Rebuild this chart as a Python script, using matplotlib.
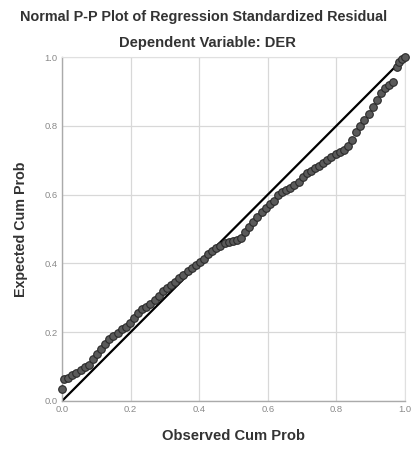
import numpy as np
import matplotlib
matplotlib.use("Agg")
import matplotlib.pyplot as plt

plt.rcParams['font.family'] = ['Liberation Sans', 'DejaVu Sans']

# observed / expected cumulative probabilities
observed = [0.000, 0.006, 0.018, 0.030, 0.042, 0.054, 0.066, 0.078, 0.090, 0.102,
            0.114, 0.126, 0.138, 0.150, 0.162, 0.174, 0.186, 0.198, 0.210, 0.222,
            0.234, 0.246, 0.258, 0.270, 0.282, 0.294, 0.306, 0.318, 0.330, 0.342,
            0.354, 0.366, 0.378, 0.390, 0.402, 0.414, 0.426, 0.438, 0.450, 0.462,
            0.474, 0.486, 0.498, 0.510, 0.522, 0.534, 0.546, 0.558, 0.570, 0.582,
            0.594, 0.606, 0.618, 0.630, 0.642, 0.654, 0.666, 0.678, 0.690, 0.702,
            0.714, 0.726, 0.738, 0.750, 0.762, 0.774, 0.786, 0.798, 0.810, 0.822,
            0.834, 0.846, 0.858, 0.870, 0.882, 0.894, 0.906, 0.918, 0.930, 0.942,
            0.954, 0.966, 0.976, 0.984, 0.992, 1.000]
expected = [0.035, 0.063, 0.068, 0.075, 0.082, 0.090, 0.098, 0.106, 0.122, 0.138,
            0.152, 0.166, 0.179, 0.189, 0.199, 0.208, 0.216, 0.226, 0.240, 0.256,
            0.266, 0.274, 0.283, 0.293, 0.306, 0.319, 0.329, 0.337, 0.346, 0.357,
            0.367, 0.378, 0.386, 0.395, 0.405, 0.414, 0.426, 0.436, 0.444, 0.452,
            0.459, 0.462, 0.465, 0.468, 0.474, 0.490, 0.506, 0.520, 0.536, 0.551,
            0.562, 0.572, 0.583, 0.600, 0.607, 0.613, 0.620, 0.628, 0.638, 0.651,
            0.662, 0.670, 0.678, 0.684, 0.691, 0.700, 0.711, 0.719, 0.725, 0.731,
            0.743, 0.758, 0.783, 0.799, 0.817, 0.835, 0.855, 0.876, 0.895, 0.910,
            0.918, 0.928, 0.972, 0.985, 0.994, 1.000]

ticks = [0.0, 0.2, 0.4, 0.6, 0.8, 1.0]
tick_labels = ['0.0', '0.2', '0.4', '0.6', '0.8', '1.0']

fig = plt.figure(figsize=(4.11, 4.5), dpi=100)
ax = fig.add_axes([0.151, 0.109, 0.834, 0.764])

# 参考线
ax.plot([0, 1], [0, 1], color='black', linewidth=1.6, zorder=2)

# 残差点
ax.scatter(observed, expected, s=30, facecolor='#5a5a5a', edgecolor='#2a2a2a',
           linewidth=0.8, zorder=3, clip_on=False)

ax.set_xlim(0, 1)
ax.set_ylim(0, 1)
ax.set_xticks(ticks)
ax.set_yticks(ticks)
ax.set_xticklabels(tick_labels)
ax.set_yticklabels(tick_labels)
ax.tick_params(length=0, labelsize=6.8, colors='#8a8a8a', pad=3)
ax.grid(True, color='#d8d8d8', linewidth=0.9)
ax.set_axisbelow(True)
for side in ['top', 'right']:
    ax.spines[side].set_color('#e0e0e0')
for side in ['left', 'bottom']:
    ax.spines[side].set_color('#aaaaaa')
    ax.spines[side].set_linewidth(1.0)

ax.set_xlabel('Observed Cum Prob', fontsize=10.6, fontweight='bold', color='#333333', labelpad=11)
ax.set_ylabel('Expected Cum Prob', fontsize=10.3, fontweight='bold', color='#333333', labelpad=12)

fig.text(0.495, 0.962, 'Normal P-P Plot of Regression Standardized Residual',
         ha='center', va='center', fontsize=10.4, fontweight='bold', color='#333333')
fig.text(0.505, 0.904, 'Dependent Variable: DER',
         ha='center', va='center', fontsize=10.6, fontweight='bold', color='#333333')

fig.savefig('out.png', dpi=100)
